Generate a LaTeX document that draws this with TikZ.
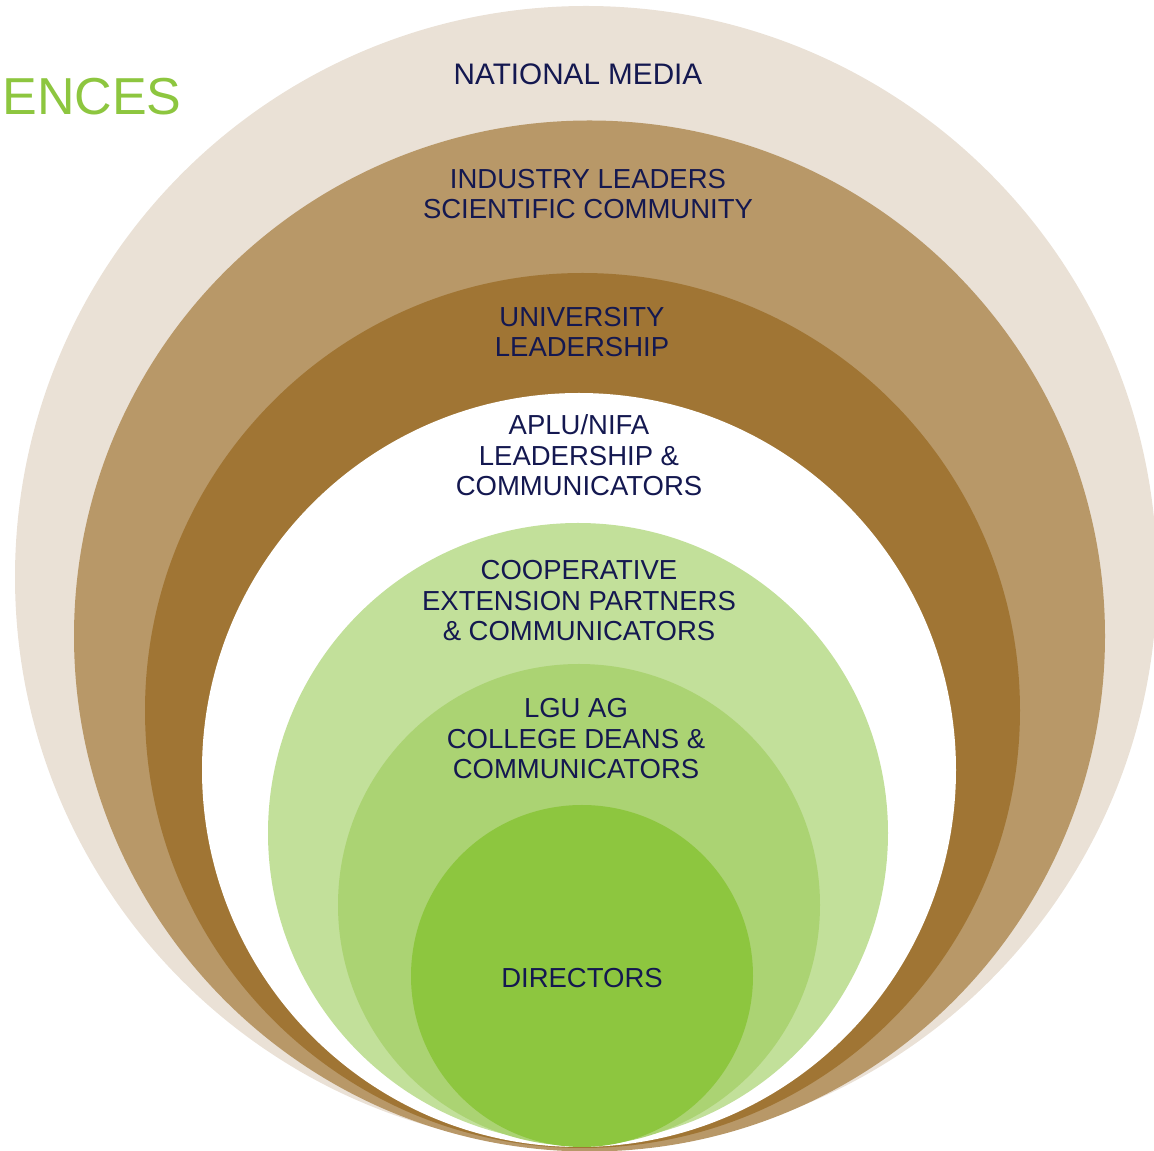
\documentclass[tikz,border=0pt]{standalone}
\usepackage{fontspec}
\setmainfont{Liberation Sans}
\usepackage{xcolor}
\usepackage{tikz}

\definecolor{ringsand}{HTML}{EAE1D6}
\definecolor{ringtan}{HTML}{B89868}
\definecolor{ringbrown}{HTML}{A07534}
\definecolor{greenpale}{HTML}{C2E09A}
\definecolor{greenmid}{HTML}{ABD373}
\definecolor{greendark}{HTML}{8DC63F}
\definecolor{navytext}{HTML}{141850}

\tikzset{
    ring/.style={draw=none},
    lbl/.style={text=navytext, align=center, inner sep=0pt, anchor=base,
        font=\fontsize{15.65}{17.6}\selectfont}
}

\begin{document}
\begin{tikzpicture}[x=0.02cm, y=-0.02cm]
    \useasboundingbox (0,0) rectangle (1154,1151);

    % Các vòng tròn lồng nhau, từ ngoài vào trong
    \fill[ring, ringsand]  (586,577) circle (571);
    \fill[ring, ringtan]   (589.5,636) circle (515.5);
    \fill[ring, ringbrown] (582.5,710.5) circle (437.5);
    \fill[ring, white]     (579,770) circle (377);
    \fill[ring, greenpale] (578,833) circle (310);
    \fill[ring, greenmid]  (579,905) circle (241);
    \fill[ring, greendark] (582,976) circle (171);

    % Tiêu đề bị cắt ở góc trái
    \node[anchor=base west, inner sep=0pt, text=greendark,
        font=\fontsize{29.6}{32}\selectfont] (title) at (2,115) {ENCES};

    % Nhãn của từng vòng (mốc là dòng cuối)
    \node[lbl, font=\fontsize{16.9}{17.9}\selectfont] (media) at (578,85) {NATIONAL MEDIA};
    \node[lbl] (industry) at (588,219) {INDUSTRY LEADERS\\SCIENTIFIC COMMUNITY};
    \node[lbl] (univ) at (582,357) {UNIVERSITY\\LEADERSHIP};
    \node[lbl] (aplu) at (579,496) {APLU/NIFA\\LEADERSHIP \&\\COMMUNICATORS};
    \node[lbl] (coop) at (579,641) {COOPERATIVE\\EXTENSION PARTNERS\\\& COMMUNICATORS};
    \node[lbl] (lgu) at (576,779) {LGU AG\\COLLEGE DEANS \&\\COMMUNICATORS};
    \node[lbl] (directors) at (582,988) {DIRECTORS};
\end{tikzpicture}
\end{document}
